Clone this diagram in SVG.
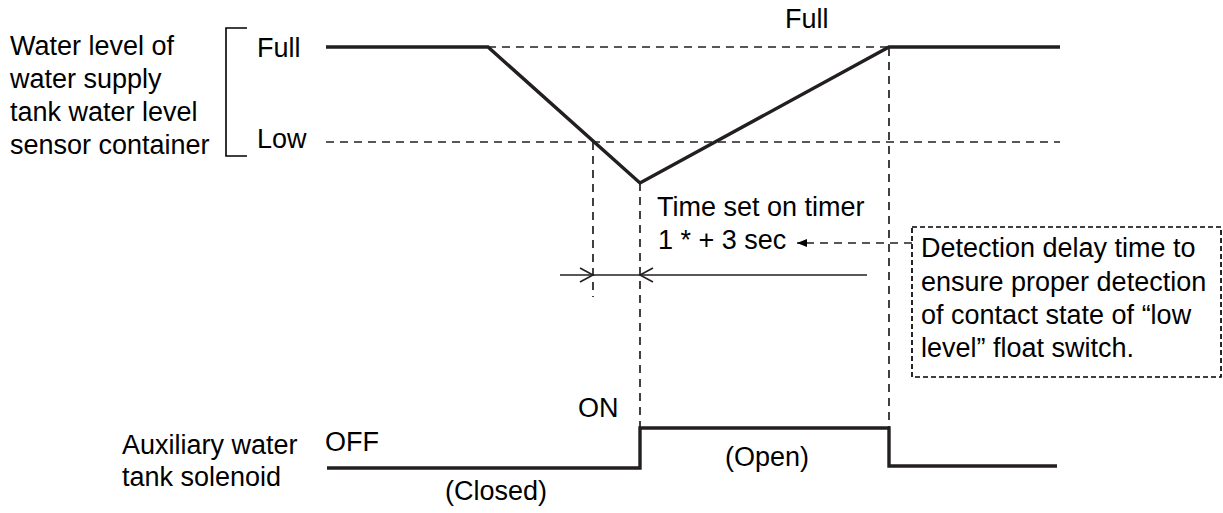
<svg xmlns="http://www.w3.org/2000/svg" width="1223" height="513" viewBox="0 0 1223 513">
<defs>
<style>
text{font-family:"Liberation Sans",Arial,sans-serif;font-size:27px;fill:#000}
.thick{fill:none;stroke:#231f20;stroke-width:3.4;stroke-linejoin:miter}
.dash{fill:none;stroke:#231f20;stroke-width:1.7;stroke-dasharray:8 6}
.thin{fill:none;stroke:#231f20;stroke-width:1.6}
</style>
<marker id="tri" viewBox="0 0 10 8" refX="10" refY="4" markerWidth="10" markerHeight="8" markerUnits="userSpaceOnUse" orient="auto">
<path d="M0,0 L10,4 L0,8 Z" fill="#000"/>
</marker>
</defs>
<rect width="1223" height="513" fill="#fff"/>
<g id="water-level-label">
<text x="10" y="55">Water level of</text>
<text x="10" y="88">water supply</text>
<text x="10" y="121">tank water level</text>
<text x="10" y="154">sensor container</text>
<path d="M247,28 H226 V156 H247" fill="none" stroke="#000" stroke-width="1.6"/>
<text x="257" y="57">Full</text>
<text x="257" y="148">Low</text>
<text x="785" y="28">Full</text>
</g>
<g id="solenoid-label">
<text x="122" y="454">Auxiliary water</text>
<text x="122" y="486">tank solenoid</text>
<text x="325" y="451">OFF</text>
<text x="578" y="417">ON</text>
<text x="445" y="500">(Closed)</text>
<text x="725" y="466">(Open)</text>
</g>
<g id="connectors">
<line class="dash" x1="488" y1="47" x2="889" y2="47"/>
<line class="dash" x1="326" y1="142" x2="1060" y2="142"/>
<line class="dash" x1="593" y1="142" x2="593" y2="297"/>
<line class="dash" x1="640" y1="183" x2="640" y2="428"/>
<line class="dash" x1="889" y1="48" x2="889" y2="428"/>
<polyline class="thick" points="326,47 488,47 640,183 889,47 1060,47"/>
<polyline class="thick" points="327,468 640,468 640,428 889,428 889,466 1057,466"/>
<line class="thin" x1="560" y1="275" x2="867" y2="275"/>
<polyline class="thin" points="580,268 593,275 580,282"/>
<polyline class="thin" points="653,268 640,275 653,282"/>
<line class="dash" x1="912" y1="243" x2="797" y2="243" stroke-dasharray="5 3" marker-end="url(#tri)"/>
</g>
<g id="timer-label">
<text x="657" y="216">Time set on timer</text>
<text x="658" y="249">1 * + 3 sec</text>
</g>
<g id="note">
<rect x="912" y="227" width="309" height="150" fill="none" stroke="#000" stroke-width="1.7" stroke-dasharray="5 3"/>
<text x="921" y="257">Detection delay time to</text>
<text x="921" y="291">ensure proper detection</text>
<text x="921" y="324">of contact state of “low</text>
<text x="921" y="357">level” float switch.</text>
</g>
</svg>
